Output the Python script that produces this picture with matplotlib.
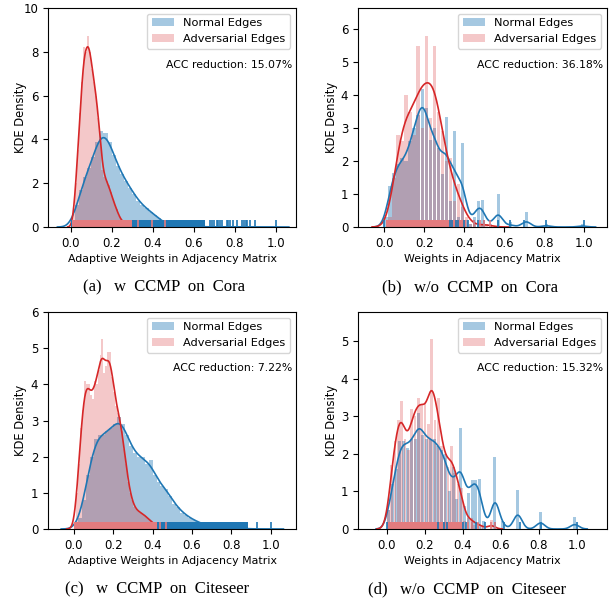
import numpy as np
import matplotlib.pyplot as plt
from matplotlib.patches import Patch

plt.rcParams['font.family'] = ['DejaVu Sans']

BLUE = '#1f77b4'
RED = '#d62728'
RED_RUG = '#e37b7e'

# ---- (a) w CCMP on Cora ----
a_blue_start, a_blue_width = 0.0, 0.02
a_blue_heights = [0.3, 1.0, 1.7, 2.3, 2.7, 3.2, 3.9, 4.4, 4.3, 3.9,
                  3.3, 2.8, 2.4, 2.1, 1.8, 1.5, 1.2, 1.0, 0.85, 0.7,
                  0.55, 0.4, 0.25, 0.1, 0.05, 0.05, 0.04, 0.04, 0.03, 0.03,
                  0.03, 0.02, 0.01, 0.0, 0.01, 0.01, 0.0, 0.01, 0.01, 0.0,
                  0.01, 0.01, 0.01, 0.0, 0.01, 0.0, 0.0, 0.0, 0.0, 0.01]
a_red_start, a_red_width = 0.01, 0.01
a_red_heights = [0.6, 2.0, 3.5, 5.2, 6.6, 8.2, 8.0, 8.7, 8.0, 7.2,
                 6.6, 6.0, 5.0, 4.0, 2.6, 2.3, 2.1, 1.9, 1.6, 1.3,
                 1.0, 0.8, 0.5, 0.35, 0.2, 0.2, 0.2, 0.1, 0.05]
a_blue_rug_span = (0.0, 0.655)
a_blue_rug = [0.68, 0.69, 0.70, 0.715, 0.72, 0.73, 0.74, 0.765, 0.77, 0.78,
              0.79, 0.813, 0.838, 0.845, 0.855, 0.862, 0.873, 0.90, 1.0]
a_red_rug_span = (0.005, 0.30)
a_red_rug = [0.33, 0.395, 0.46]

# ---- (b) w/o CCMP on Cora ----
b_blue_start, b_blue_width = 0.0, 0.02
b_blue_heights = [0.3, 1.24, 1.64, 1.9, 2.1, 2.0, 2.6, 3.0, 3.4, 4.17,
                  3.6, 2.65, 3.0, 2.4, 1.6, 3.35, 0.8, 2.9, 0.3, 2.56,
                  0.2, 0.1, 0.3, 0.78, 0.83, 0.0, 0.1, 0.0, 1.0, 0.0,
                  0.0, 0.15, 0.0, 0.0, 0.0, 0.44, 0.0, 0.0, 0.0, 0.0,
                  0.1, 0.0, 0.0, 0.0, 0.0, 0.0, 0.0, 0.0, 0.0, 0.08]
b_red_start, b_red_width = 0.02, 0.02
b_red_heights = [0.3, 1.5, 2.8, 2.6, 4.0, 3.5, 2.8, 5.5, 3.0, 5.8,
                 3.3, 5.5, 3.5, 2.9, 2.0, 2.1, 0.8, 1.3, 0.6, 0.3,
                 0.1, 0.1, 0.0, 0.1, 0.1, 0.05]
b_blue_rug_span = (0.0, 0.0)
b_blue_rug = [0.0, 0.33, 0.34, 0.36, 0.37, 0.40, 0.42, 0.45, 0.47, 0.50,
              0.57, 0.63, 0.70, 0.81, 1.0]
b_red_rug_span = (0.01, 0.41)
b_red_rug = [0.45, 0.48, 0.50, 0.53]

# ---- (c) w CCMP on Citeseer ----
c_blue_start, c_blue_width = 0.0, 0.02
c_blue_heights = [0.1, 0.3, 0.8, 1.5, 2.0, 2.5, 2.6, 2.6, 2.7, 2.8,
                  2.9, 3.1, 2.9, 2.6, 2.3, 2.1, 2.0, 2.0, 1.8, 1.9,
                  1.5, 1.3, 1.2, 1.1, 0.9, 0.7, 0.6, 0.45, 0.4, 0.3,
                  0.25, 0.2, 0.15, 0.1, 0.1, 0.05, 0.05, 0.05, 0.02, 0.02,
                  0.02, 0.02, 0.02, 0.01, 0.0, 0.0, 0.01, 0.0, 0.0, 0.01]
c_red_start, c_red_width = 0.0, 0.01
c_red_heights = [0.2, 1.0, 1.8, 2.8, 3.3, 4.1, 4.0, 4.0, 3.7, 3.6,
                 4.1, 4.0, 4.4, 4.8, 5.25, 4.3, 4.5, 4.9, 4.9, 4.2,
                 3.8, 3.4, 3.2, 3.1, 2.7, 2.2, 1.8, 1.3, 1.0, 0.8,
                 0.6, 0.55, 0.5, 0.45, 0.45, 0.4, 0.35, 0.3, 0.25, 0.2,
                 0.15, 0.1, 0.1, 0.05, 0.05, 0.03]
c_blue_rug_span = (0.0, 0.885)
c_blue_rug = [0.93, 1.0]
c_red_rug_span = (0.0, 0.42)
c_red_rug = [0.44, 0.47]

# ---- (d) w/o CCMP on Citeseer ----
d_blue_start, d_blue_width = 0.0, 0.02
d_blue_heights = [0.5, 1.2, 1.6, 2.35, 2.35, 2.15, 2.4, 2.4, 3.1, 2.5,
                  2.4, 2.4, 2.4, 2.2, 2.1, 2.0, 1.0, 1.65, 0.8, 2.7,
                  0.6, 0.95, 1.3, 1.3, 1.33, 0.2, 0.0, 0.0, 1.93, 0.0,
                  0.2, 0.0, 0.0, 0.0, 1.05, 0.0, 0.0, 0.0, 0.0, 0.0,
                  0.45, 0.0, 0.0, 0.0, 0.0, 0.0, 0.0, 0.0, 0.0, 0.33]
d_red_start, d_red_width = 0.0, 0.0175
d_red_heights = [0.5, 1.7, 2.35, 2.9, 3.4, 2.4, 2.1, 3.2, 3.0, 3.5,
                 3.3, 3.35, 2.8, 5.05, 2.9, 3.5, 2.2, 1.9, 1.65, 2.2,
                 1.5, 1.2, 1.1, 0.2, 0.3, 0.3, 0.1, 0.15, 0.1, 0.0,
                 0.0, 0.25, 0.0]
d_blue_rug_span = (0.0, 0.0)
d_blue_rug = [0.0, 0.27, 0.30, 0.32, 0.40, 0.42, 0.45, 0.47, 0.52, 0.57,
              0.62, 0.70, 0.81, 1.0]
d_red_rug_span = (0.0, 0.40)
d_red_rug = [0.43, 0.45, 0.48, 0.55, 0.57]

acc_texts = ['ACC reduction: 15.07%', 'ACC reduction: 36.18%',
             'ACC reduction: 7.22%', 'ACC reduction: 15.32%']
captions = ['(a)   w  CCMP  on  Cora', '(b)   w/o  CCMP  on  Cora',
            '(c)   w  CCMP  on  Citeseer', '(d)   w/o  CCMP  on  Citeseer']
xlabels = ['Adaptive Weights in Adjacency Matrix', 'Weights in Adjacency Matrix',
           'Adaptive Weights in Adjacency Matrix', 'Weights in Adjacency Matrix']

panels = [
    dict(blue=(a_blue_start, a_blue_width, a_blue_heights, 0.025, a_blue_rug_span, a_blue_rug),
         red=(a_red_start, a_red_width, a_red_heights, 0.010, a_red_rug_span, a_red_rug),
         rect=[48, 8, 296, 227], xlim=(-0.111, 1.10), ylim=(0, 10), yticks=range(0, 11, 2),
         fill=1.0, ylab_x=-0.085),
    dict(blue=(b_blue_start, b_blue_width, b_blue_heights, 0.022, b_blue_rug_span, b_blue_rug),
         red=(b_red_start, b_red_width, b_red_heights, 0.03, b_red_rug_span, b_red_rug),
         rect=[358, 8, 607, 227], xlim=(-0.13, 1.113), ylim=(0, 6.64), yticks=range(0, 7),
         fill=0.8, ylab_x=-0.08),
    dict(blue=(c_blue_start, c_blue_width, c_blue_heights, 0.025, c_blue_rug_span, c_blue_rug),
         red=(c_red_start, c_red_width, c_red_heights, 0.014, c_red_rug_span, c_red_rug),
         rect=[48, 312, 296, 529], xlim=(-0.132, 1.129), ylim=(0, 6), yticks=range(0, 7),
         fill=1.0, ylab_x=-0.085),
    dict(blue=(d_blue_start, d_blue_width, d_blue_heights, 0.022, d_blue_rug_span, d_blue_rug),
         red=(d_red_start, d_red_width, d_red_heights, 0.02, d_red_rug_span, d_red_rug),
         rect=[358, 312, 607, 529], xlim=(-0.151, 1.16), ylim=(0, 5.78), yticks=range(0, 6),
         fill=0.8, ylab_x=-0.08),
]
caption_pos = [(164, 287), (470, 287), (157, 589), (467, 589)]

W, H = 609, 600
RUG_H = 0.032


def draw_series(ax, series, color, fill, hist_alpha, rug_color, rug_alpha, rug_z):
    start, width, heights, bw, rug_span, rug_extra = series
    heights = np.asarray(heights, dtype=float)
    lefts = start + width * np.arange(len(heights))
    centers = lefts + width / 2
    # histogram (density)
    ax.bar(lefts + width * (1 - fill) / 2, heights, width=width * fill, align='edge',
           color=color, alpha=hist_alpha, linewidth=0)
    # kde from the histogram mass
    mass = heights * width
    used = mass > 0
    s = np.sqrt(bw ** 2 + width ** 2 / 12)
    xs = np.linspace(centers[used].min() - 3 * bw, centers[used].max() + 3 * bw, 600)
    dens = (mass[used][None, :] * np.exp(-0.5 * ((xs[:, None] - centers[used][None, :]) / s) ** 2)
            / (np.sqrt(2 * np.pi) * s)).sum(axis=1)
    ax.plot(xs, dens, color=color, lw=1.2)
    # rug: dense stretch as a band, isolated values as ticks
    if rug_span[1] > rug_span[0]:
        ax.axvspan(rug_span[0], rug_span[1], ymin=0, ymax=RUG_H, color=rug_color,
                   alpha=rug_alpha, lw=0, zorder=rug_z)
    ax.vlines(rug_extra, 0, RUG_H, transform=ax.get_xaxis_transform(), color=rug_color,
              lw=1.2, alpha=rug_alpha, zorder=rug_z + 0.5)


fig = plt.figure(figsize=(W / 100, H / 100), dpi=100)

for i, p in enumerate(panels):
    x0, y0, x1, y1 = p['rect']
    ax = fig.add_axes([x0 / W, 1 - y1 / H, (x1 - x0) / W, (y1 - y0) / H])
    draw_series(ax, p['blue'], BLUE, p['fill'], 0.4, BLUE, 1.0, 2.2)
    draw_series(ax, p['red'], RED, p['fill'], 0.25, RED_RUG, 1.0, 2.4)
    ax.set_xlim(*p['xlim'])
    ax.set_ylim(*p['ylim'])
    ax.set_xticks([0.0, 0.2, 0.4, 0.6, 0.8, 1.0])
    ax.set_yticks(list(p['yticks']))
    ax.tick_params(labelsize=8.5, length=3.5, width=0.8)
    ax.set_xlabel(xlabels[i], fontsize=7.9, labelpad=3)
    ax.set_ylabel('KDE Density', fontsize=8.3)
    ax.yaxis.set_label_coords(p['ylab_x'], 0.5)
    handles = [Patch(facecolor=BLUE, alpha=0.4, label='Normal Edges'),
               Patch(facecolor=RED, alpha=0.25, label='Adversarial Edges')]
    ax.legend(handles=handles, loc='upper right', fontsize=8.2, borderaxespad=0.5)
    ax.text(0.984, 0.74, acc_texts[i], transform=ax.transAxes, ha='right', va='center',
            fontsize=7.8)
    cx, cy = caption_pos[i]
    fig.text(cx / W, 1 - cy / H, captions[i], ha='center', va='center',
             fontsize=12, family=['Liberation Serif', 'DejaVu Serif'])

fig.savefig('out.png', dpi=100)
